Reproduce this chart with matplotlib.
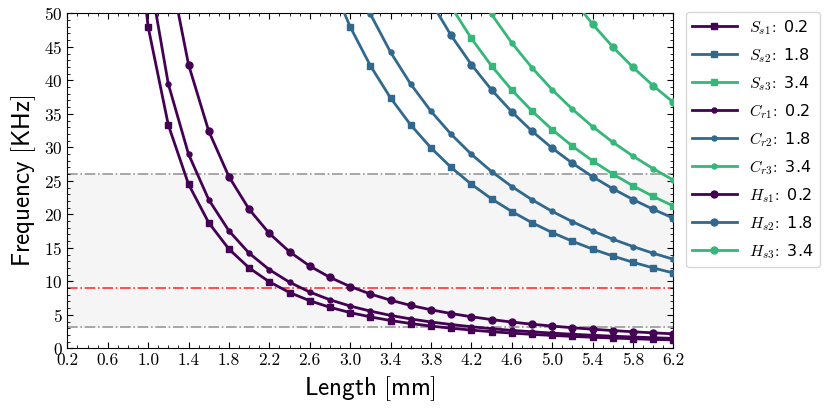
import matplotlib
matplotlib.use('Agg')
import matplotlib.pyplot as plt
from matplotlib.ticker import MultipleLocator, FormatStrFormatter

plt.rcParams['mathtext.fontset'] = 'cm'
plt.rcParams['font.family'] = ['cmr10', 'DejaVu Sans']
plt.rcParams['axes.formatter.use_mathtext'] = True

# ==== dados ====

x_s1 = [0.8, 1.0, 1.2, 1.4, 1.6, 1.8, 2.0, 2.2, 2.4, 2.6, 2.8, 3.0, 3.2, 3.4, 3.6,
        3.8, 4.0, 4.2, 4.4, 4.6, 4.8, 5.0, 5.2, 5.4, 5.6, 5.8, 6.0, 6.2]
s_s1 = [75.00, 48.00, 33.33, 24.49, 18.75, 14.81, 12.00, 9.92, 8.33, 7.10, 6.12,
        5.33, 4.69, 4.15, 3.70, 3.32, 3.00, 2.72, 2.48, 2.27, 2.08, 1.92, 1.78,
        1.65, 1.53, 1.43, 1.33, 1.25]
x_c1 = x_s1[1:]
c_r1 = [56.80, 39.44, 28.98, 22.19, 17.53, 14.20, 11.74, 9.86, 8.40, 7.24, 6.31,
        5.55, 4.91, 4.38, 3.93, 3.55, 3.22, 2.93, 2.68, 2.47, 2.27, 2.10, 1.95,
        1.81, 1.69, 1.58, 1.48]
x_h1 = x_s1[2:]
h_s1 = [57.64, 42.35, 32.42, 25.62, 20.75, 17.15, 14.41, 12.28, 10.59, 9.22, 8.11,
        7.18, 6.40, 5.75, 5.19, 4.71, 4.29, 3.92, 3.60, 3.32, 3.07, 2.85, 2.65,
        2.47, 2.31, 2.16]

x_s2 = [2.8, 3.0, 3.2, 3.4, 3.6, 3.8, 4.0, 4.2, 4.4, 4.6, 4.8, 5.0, 5.2, 5.4, 5.6,
        5.8, 6.0, 6.2]
s_s2 = [55.10, 48.00, 42.19, 37.37, 33.33, 29.92, 27.00, 24.49, 22.31, 20.42, 18.75,
        17.28, 15.98, 14.81, 13.78, 12.84, 12.00, 11.24]
x_c2 = x_s2[1:]
c_r2 = [56.78, 49.90, 44.20, 39.43, 35.39, 31.94, 28.97, 26.39, 24.15, 22.18, 20.44,
        18.90, 17.52, 16.29, 15.19, 14.19, 13.29]
x_h2 = [3.8, 4.0, 4.2, 4.4, 4.6, 4.8, 5.0, 5.2, 5.4, 5.6, 5.8, 6.0, 6.2]
h_s2 = [51.73, 46.69, 42.35, 38.58, 35.30, 32.42, 29.88, 27.63, 25.62, 23.82, 22.21,
        20.75, 19.43]

x_s3 = [4.0, 4.2, 4.4, 4.6, 4.8, 5.0, 5.2, 5.4, 5.6, 5.8, 6.0, 6.2]
s_s3 = [51.00, 46.26, 42.15, 38.56, 35.42, 32.64, 30.18, 27.98, 26.02, 24.26, 22.67,
        21.23]
x_c3 = x_s3[1:]
c_r3 = [54.71, 49.85, 45.60, 41.88, 38.60, 35.69, 33.09, 30.77, 28.69, 26.81, 25.10]
x_h3 = [5.2, 5.4, 5.6, 5.8, 6.0, 6.2]
h_s3 = [52.18, 48.39, 44.99, 41.94, 39.19, 36.71]

espessuras = ['0.2', '1.8', '3.4']
cores = ['#440154', '#31688e', '#35b779']

faixa = [3.2, 26.0]     # faixa de operação
alvo = 9.0

# ==== gráfico ====

fig = plt.figure(figsize=(8.3, 4.15), dpi=100)
ax = fig.add_axes([0.0811, 0.1607, 0.7302, 0.8072])

ax.axhspan(faixa[0], faixa[1], color='#f5f5f5', zorder=0)
ax.axhline(faixa[0], color='#999999', ls='-.', lw=1.2, zorder=1)
ax.axhline(faixa[1], color='#999999', ls='-.', lw=1.2, zorder=1)
ax.axhline(alvo, color='#ff3333', ls='-.', lw=1.2, zorder=1)

series = [
    ('S', 's1', x_s1, s_s1, 0, 's', 4.3), ('S', 's2', x_s2, s_s2, 1, 's', 4.3),
    ('S', 's3', x_s3, s_s3, 2, 's', 4.3),
    ('C', 'r1', x_c1, c_r1, 0, 'o', 3.6), ('C', 'r2', x_c2, c_r2, 1, 'o', 3.6),
    ('C', 'r3', x_c3, c_r3, 2, 'o', 3.6),
    ('H', 's1', x_h1, h_s1, 0, 'o', 5.0), ('H', 's2', x_h2, h_s2, 1, 'o', 5.0),
    ('H', 's3', x_h3, h_s3, 2, 'o', 5.0),
]
for nome, sub, xs, ys, k, mk, ms in series:
    rotulo = r'$%s_{%s}\!:$ %s' % (nome, sub, espessuras[k])
    ax.plot(xs, ys, color=cores[k], marker=mk, ms=ms, lw=2.0, label=rotulo,
            zorder=3)

ax.set_xlim(0.2, 6.2)
ax.set_ylim(0, 50)
ax.xaxis.set_major_locator(MultipleLocator(0.4, offset=0.2))
ax.xaxis.set_minor_locator(MultipleLocator(0.1))
ax.yaxis.set_major_locator(MultipleLocator(5))
ax.yaxis.set_minor_locator(MultipleLocator(1))
ax.xaxis.set_major_formatter(FormatStrFormatter('%.1f'))
ax.tick_params(which='both', direction='in', top=True, right=True, labelsize=12.5)
ax.tick_params(which='major', length=4)
ax.tick_params(which='minor', length=2)

ax.set_xlabel(r'$\mathsf{Length\ [mm]}$', fontsize=18)
ax.set_ylabel(r'$\mathsf{Frequency\ [KHz]}$', fontsize=18)

ax.legend(loc='upper left', bbox_to_anchor=(1.02, 1.005),
          prop={'family': 'DejaVu Sans', 'size': 11.5},
          handlelength=2.8, labelspacing=0.58, borderaxespad=0.0)

fig.savefig('out.png', dpi=100)
